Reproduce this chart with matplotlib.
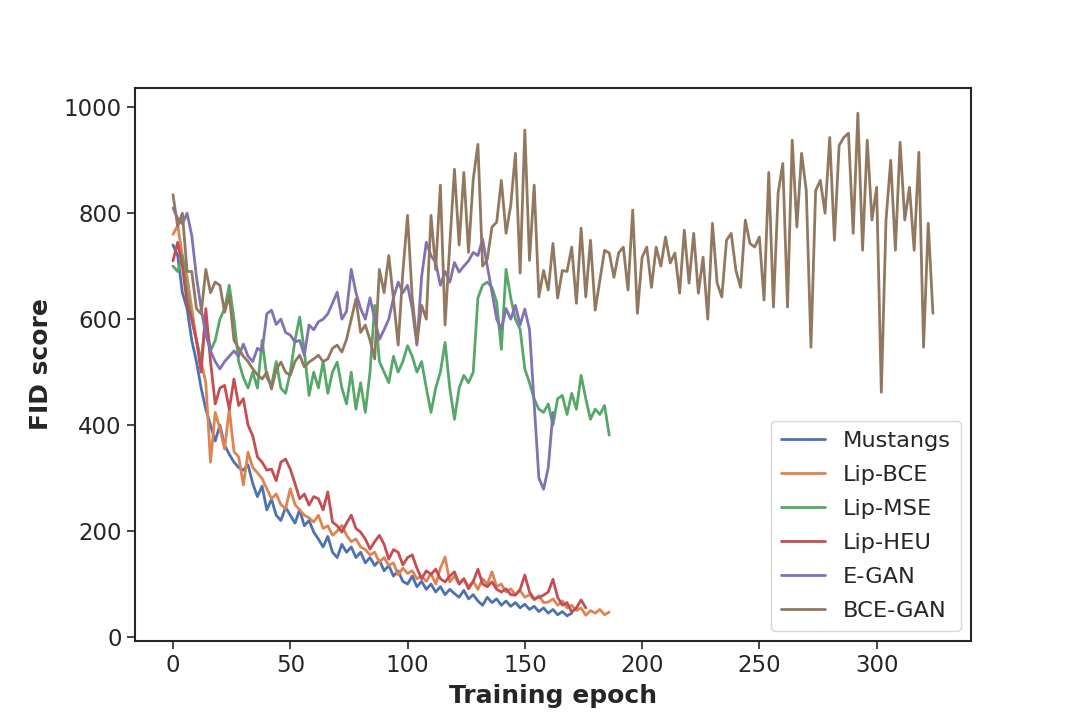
import numpy as np
import matplotlib
matplotlib.use("Agg")
import matplotlib.pyplot as plt
import seaborn as sns

STEP = 2  # epochs between logged FID values

mustangs = [740, 720, 650, 620, 560, 520, 470, 430, 400, 370, 400, 362, 345, 330, 320, 315,
            325, 290, 265, 285, 240, 260, 230, 220, 245, 230, 215, 240, 210, 220, 198, 185,
            170, 190, 160, 150, 175, 160, 170, 150, 160, 140, 150, 135, 145, 125, 135, 115,
            125, 105, 100, 115, 95, 105, 90, 100, 85, 95, 80, 90, 82, 75, 88, 72,
            80, 68, 60, 75, 65, 72, 60, 68, 58, 65, 55, 62, 52, 58, 48, 55,
            45, 52, 42, 48, 40, 45]

lip_bce = [760, 777, 720, 680, 620, 560, 520, 480, 330, 424, 393, 355, 430, 350, 340, 287,
           349, 320, 310, 299, 280, 261, 270, 250, 242, 280, 250, 240, 230, 225, 217, 230,
           205, 210, 192, 200, 211, 192, 180, 185, 170, 165, 155, 160, 141, 150, 135, 140,
           117, 130, 120, 125, 110, 115, 105, 120, 100, 130, 151, 104, 115, 100, 110, 95,
           105, 90, 110, 100, 123, 95, 100, 85, 91, 80, 88, 75, 80, 70, 78, 65,
           66, 72, 60, 68, 55, 60, 50, 55, 41, 50, 45, 52, 42, 47]

lip_mse = [700, 690, 720, 650, 600, 560, 520, 600, 540, 560, 600, 620, 664, 600, 520, 490,
           470, 500, 470, 560, 490, 475, 520, 470, 460, 500, 560, 604, 540, 456, 500, 470,
           520, 460, 500, 519, 470, 440, 500, 430, 480, 424, 500, 626, 520, 500, 480, 530,
           500, 520, 550, 530, 500, 520, 470, 424, 470, 500, 556, 470, 411, 470, 494, 480,
           500, 640, 664, 670, 660, 632, 543, 694, 640, 600, 581, 506, 480, 449, 430, 424,
           440, 400, 450, 456, 420, 460, 430, 494, 450, 411, 430, 420, 437, 381]

lip_heu = [710, 745, 700, 630, 600, 560, 500, 620, 520, 440, 470, 475, 430, 487, 437, 450,
           400, 380, 340, 330, 315, 317, 295, 330, 336, 317, 290, 261, 270, 249, 265, 261,
           240, 274, 217, 210, 198, 215, 230, 205, 198, 185, 166, 180, 192, 175, 147, 165,
           160, 136, 150, 155, 130, 110, 125, 118, 128, 110, 104, 115, 123, 100, 110, 91,
           105, 128, 100, 95, 104, 90, 85, 91, 80, 79, 90, 117, 85, 72, 75, 79,
           85, 109, 75, 60, 65, 47, 55, 70, 55]

e_gan = [810, 790, 780, 800, 758, 680, 620, 570, 540, 520, 506, 520, 530, 540, 530, 553,
         530, 520, 545, 540, 610, 617, 590, 600, 575, 570, 557, 560, 532, 589, 580, 595,
         600, 610, 630, 651, 600, 615, 694, 650, 620, 600, 640, 600, 562, 580, 600, 640,
         670, 650, 664, 620, 551, 680, 745, 720, 707, 664, 690, 670, 707, 689, 700, 710,
         726, 720, 751, 700, 651, 600, 581, 620, 600, 626, 589, 619, 580, 440, 300, 279,
         320, 424]

bce_gan = [835, 775, 800, 690, 690, 620, 610, 694, 650, 670, 664, 613, 645, 560, 545, 530,
           520, 506, 495, 487, 500, 468, 505, 519, 500, 494, 520, 532, 510, 519, 525, 532,
           520, 525, 545, 551, 538, 562, 600, 638, 575, 589, 560, 525, 694, 650, 720, 638,
           551, 689, 796, 640, 557, 626, 600, 796, 694, 853, 589, 740, 883, 740, 877, 726,
           864, 930, 700, 713, 774, 783, 862, 762, 815, 913, 687, 957, 711, 853, 642, 692,
           655, 743, 640, 692, 690, 736, 630, 772, 642, 749, 617, 674, 730, 725, 679, 725,
           736, 655, 806, 611, 717, 736, 660, 736, 700, 755, 706, 725, 649, 768, 668, 762,
           649, 717, 600, 781, 668, 642, 749, 762, 692, 660, 787, 743, 736, 755, 636, 877,
           623, 838, 894, 623, 938, 774, 913, 843, 547, 843, 862, 800, 943, 749, 928, 943,
           951, 762, 989, 730, 938, 787, 849, 462, 787, 900, 730, 934, 787, 849, 730, 915,
           547, 781, 611]

series_names = ["Mustangs", "Lip-BCE", "Lip-MSE", "Lip-HEU", "E-GAN", "BCE-GAN"]
series_values = [mustangs, lip_bce, lip_mse, lip_heu, e_gan, bce_gan]

sns.set_theme(style="ticks")
plt.rcParams['font.family'] = ['DejaVu Sans']
colors = sns.color_palette("deep")

fig, ax = plt.subplots(figsize=(10.8, 7.21), dpi=100)
fig.subplots_adjust(left=0.125, right=0.899, bottom=0.111, top=0.878)

for name, vals, c in zip(series_names, series_values, colors):
    x = np.arange(len(vals)) * STEP
    ax.plot(x, vals, color=c, lw=2.0, label=name)

ax.set_xlabel("Training epoch", fontsize=18, fontweight="bold", labelpad=5)
ax.set_ylabel("FID score", fontsize=18, fontweight="bold", labelpad=8)
ax.tick_params(labelsize=16.5, length=6, width=1.2)
for sp in ax.spines.values():
    sp.set_linewidth(1.5)
    sp.set_color("#262626")
ax.set_xticks([0, 50, 100, 150, 200, 250, 300])
ax.set_yticks([0, 200, 400, 600, 800, 1000])

leg = ax.legend(loc="lower right", fontsize=16.2, handlelength=1.95, borderpad=0.45,
                labelspacing=0.62, handletextpad=0.8, borderaxespad=0.45)

fig.savefig("out.png", dpi=100)
